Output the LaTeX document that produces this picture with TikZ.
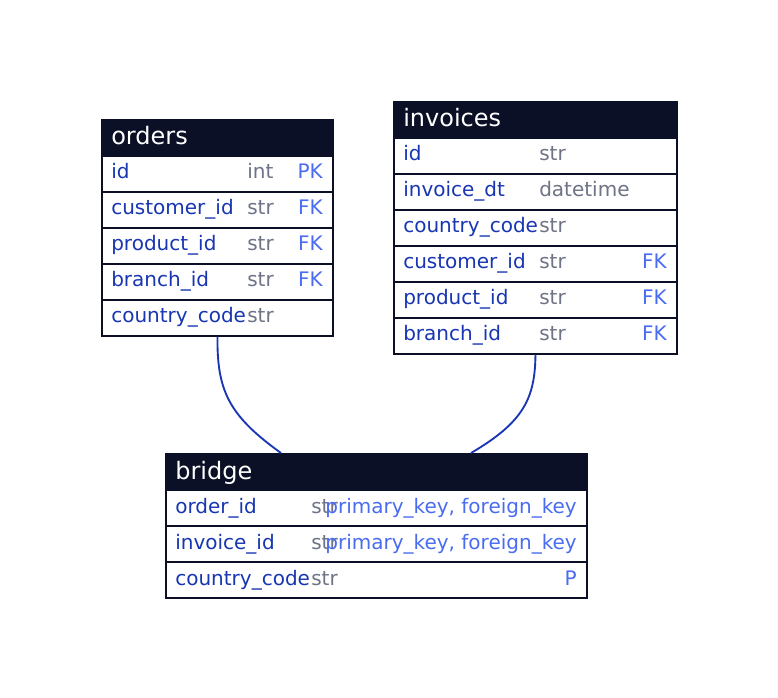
\documentclass[tikz,border=0pt]{standalone}
\usepackage{fontspec}
\setmainfont{DejaVu Sans}
\definecolor{headbg}{HTML}{0B1026}
\definecolor{fieldblue}{HTML}{1836B2}
\definecolor{typegray}{HTML}{6E7386}
\definecolor{keyblue}{HTML}{4A6CF0}
\definecolor{linkblue}{HTML}{1A36B4}
\tikzset{
  tblhead/.style={fill=headbg, draw=headbg, line width=1.2pt, anchor=north west, minimum height=27pt, inner sep=0pt},
  tblrow/.style={fill=white, draw=headbg, line width=1.2pt, anchor=north west, minimum height=27pt, inner sep=0pt},
  tbltitle/.style={anchor=base west, text=white, inner sep=0pt, font=\fontsize{18}{20}\selectfont},
  fname/.style={anchor=base west, text=fieldblue, inner sep=0pt, font=\fontsize{15}{17}\selectfont},
  ftype/.style={anchor=base west, text=typegray, inner sep=0pt, font=\fontsize{15}{17}\selectfont},
  fkey/.style={anchor=base east, text=keyblue, inner sep=0pt, font=\fontsize{15}{17}\selectfont},
  link/.style={draw=linkblue, line width=1.4pt}
}
\begin{document}
\begin{tikzpicture}[x=0.75pt, y=-0.75pt]
\useasboundingbox (0,0) rectangle (778,698);

% orders
\node[tblhead, minimum width=173.5pt] (orders) at (101,119) {};
\node[tbltitle] (orders-title) at (111,145) {orders};
\foreach \f/\t/\k [count=\i] in {id/int/PK, customer\_id/str/FK, product\_id/str/FK, branch\_id/str/FK, country\_code/str/} {
  \node[tblrow, minimum width=173.5pt] (orders-\i) at (101,119+36*\i) {};
  \node[fname] (orders-\i-name) at (111,143+36*\i) {\f};
  \node[ftype] (orders-\i-type) at (247,143+36*\i) {\t};
  \node[fkey] (orders-\i-key) at (323,143+36*\i) {\k};
}

% invoices
\node[tblhead, minimum width=212.5pt] (invoices) at (393,101) {};
\node[tbltitle] (invoices-title) at (403,127) {invoices};
\foreach \f/\t/\k [count=\i] in {id/str/, invoice\_dt/datetime/, country\_code/str/, customer\_id/str/FK, product\_id/str/FK, branch\_id/str/FK} {
  \node[tblrow, minimum width=212.5pt] (invoices-\i) at (393,101+36*\i) {};
  \node[fname] (invoices-\i-name) at (403,125+36*\i) {\f};
  \node[ftype] (invoices-\i-type) at (539,125+36*\i) {\t};
  \node[fkey] (invoices-\i-key) at (667,125+36*\i) {\k};
}

% bridge
\node[tblhead, minimum width=316pt] (bridge) at (165,453) {};
\node[tbltitle] (bridge-title) at (175,479) {bridge};
\foreach \f/\t/\k [count=\i] in {order\_id/str/{primary\_key, foreign\_key}, invoice\_id/str/{primary\_key, foreign\_key}, country\_code/str/P} {
  \node[tblrow, minimum width=316pt] (bridge-\i) at (165,453+36*\i) {};
  \node[ftype] (bridge-\i-type) at (311,477+36*\i) {\t};
  \node[fname] (bridge-\i-name) at (175,477+36*\i) {\f};
  \node[fkey] (bridge-\i-key) at (577,477+36*\i) {\k};
}

% links
\coordinate (bridge-in-orders) at (281,453);
\coordinate (bridge-in-invoices) at (471,453);
\draw[link] (orders-5.south) .. controls (217,390) and (228,415) .. (bridge-in-orders);
\draw[link] (invoices-6.south) .. controls (535,398) and (524,422) .. (bridge-in-invoices);
\end{tikzpicture}
\end{document}
